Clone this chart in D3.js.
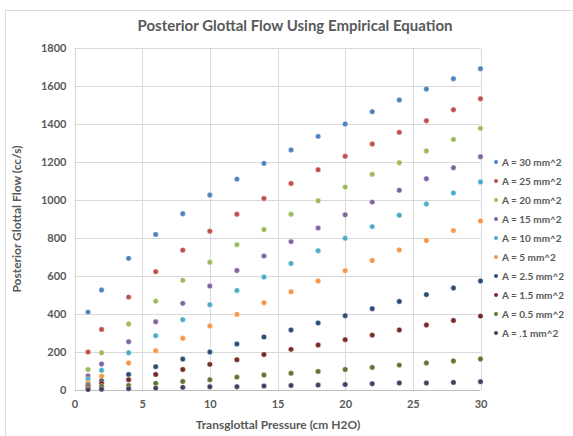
<!DOCTYPE html>
<html lang="en">
<head>
    <meta charset="UTF-8">
    <title>Posterior Glottal Flow</title>
    <script src="https://d3js.org/d3.v7.min.js"></script>
    <style>
        body { margin: 0; background: #fff; }
        text { font-family: Lato, "Open Sans", sans-serif; fill: #595959; }
        .tick text { font-size: 11px; font-weight: bold; }
        .title { font-size: 15px; font-weight: bold; }
        .axis-title { font-size: 12px; font-weight: bold; }
        .legend text { font-size: 10px; font-weight: bold; }
    </style>
</head>
<body>
    <svg width="573" height="436"></svg>
    <script>
        // transglottal pressure (cm H2O)
        var pressure = [1, 2, 4, 6, 8, 10, 12, 14, 16, 18, 20, 22, 24, 26, 28, 30];

        var seriesNames = ["A = 30 mm^2", "A = 25 mm^2", "A = 20 mm^2", "A = 15 mm^2", "A = 10 mm^2",
                           "A = 5 mm^2", "A = 2.5 mm^2", "A = 1.5 mm^2", "A = 0.5 mm^2", "A = .1 mm^2"];

        var a30  = [410, 526, 693, 819, 928, 1026, 1110, 1193, 1263, 1335, 1400, 1465, 1526, 1584, 1638, 1691];
        var a25  = [200, 319, 489, 623, 736, 836, 925, 1008, 1087, 1159, 1230, 1295, 1356, 1417, 1475, 1533];
        var a20  = [108, 196, 347, 468, 577, 672, 765, 845, 925, 996, 1068, 1135, 1196, 1258, 1319, 1377];
        var a15  = [74, 137, 254, 359, 456, 547, 629, 705, 781, 853, 922, 989, 1051, 1112, 1170, 1228];
        var a10  = [56, 104, 196, 286, 370, 449, 524, 595, 666, 733, 799, 860, 920, 979, 1037, 1095];
        var a5   = [38, 72, 142, 207, 272, 337, 398, 459, 517, 574, 628, 682, 737, 787, 839, 890];
        var a2_5 = [25, 48, 82, 123, 163, 200, 242, 279, 316, 353, 391, 428, 466, 502, 537, 574];
        var a1_5 = [17, 35, 54, 82, 108, 135, 159, 187, 214, 237, 265, 289, 316, 342, 366, 389];
        var a0_5 = [8, 20, 24, 35, 45, 54, 68, 79, 88, 98, 108, 119, 131, 142, 153, 163];
        var a0_1 = [2, 4, 7, 10, 14, 17, 17, 21, 24, 26, 29, 33, 37, 37, 40, 44];

        var xTicks = [0, 5, 10, 15, 20, 25, 30];
        var yTicks = [0, 200, 400, 600, 800, 1000, 1200, 1400, 1600, 1800];

        var seriesValues = [a30, a25, a20, a15, a10, a5, a2_5, a1_5, a0_5, a0_1];
        var colors = ["#4f81bd", "#c0504d", "#9bbb59", "#8064a2", "#4bacc6",
                      "#f79646", "#2c4d75", "#772c2a", "#5f7530", "#4d3b62"];

        var svg = d3.select("svg");

        // chart frame
        svg.append("rect")
            .attr("x", 5.5).attr("y", 10.5)
            .attr("width", 600).attr("height", 500)
            .attr("fill", "none").attr("stroke", "#d9d9d9");

        var x = d3.scaleLinear().domain([0, 30]).range([74.5, 480.5]);
        var y = d3.scaleLinear().domain([0, 1800]).range([390, 48]);

        // gridlines
        svg.append("g").selectAll("line").data(yTicks).enter().append("line")
            .attr("x1", x(0)).attr("x2", x(30))
            .attr("y1", function(d) { return Math.round(y(d)) + 0.5; })
            .attr("y2", function(d) { return Math.round(y(d)) + 0.5; })
            .attr("stroke", function(d) { return d === 0 ? "#bfbfbf" : "#d9d9d9"; });

        svg.append("g").selectAll("line").data(xTicks).enter().append("line")
            .attr("y1", y(0)).attr("y2", y(1800))
            .attr("x1", function(d) { return Math.round(x(d)) + 0.5; })
            .attr("x2", function(d) { return Math.round(x(d)) + 0.5; })
            .attr("stroke", "#d9d9d9");

        // axes (labels only)
        var xAxis = svg.append("g")
            .attr("transform", "translate(0," + y(0) + ")")
            .call(d3.axisBottom(x).tickValues(xTicks).tickSize(0).tickPadding(10));
        var yAxis = svg.append("g")
            .attr("transform", "translate(" + x(0) + ",0)")
            .call(d3.axisLeft(y).tickValues(yTicks).tickFormat(d3.format("d")).tickSize(0).tickPadding(8));
        xAxis.select(".domain").remove();
        yAxis.select(".domain").remove();

        // points
        seriesValues.forEach(function(vals, i) {
            svg.append("g").selectAll("circle").data(vals).enter().append("circle")
                .attr("cx", function(d, j) { return x(pressure[j]); })
                .attr("cy", function(d) { return y(d); })
                .attr("r", 2.7)
                .attr("fill", colors[i])
                .attr("stroke", "#fff")
                .attr("stroke-width", 0.4);
        });

        // legend
        var legend = svg.append("g").attr("class", "legend")
            .selectAll("g").data(seriesNames).enter().append("g")
            .attr("transform", function(d, i) { return "translate(496," + (162 + i * 19) + ")"; });
        legend.append("circle").attr("r", 2).attr("fill", function(d, i) { return colors[i]; });
        legend.append("text").attr("x", 6).attr("dy", "0.35em").text(function(d) { return d; });

        // titles
        svg.append("text").attr("class", "title")
            .attr("x", 295).attr("y", 31).attr("text-anchor", "middle")
            .text("Posterior Glottal Flow Using Empirical Equation");

        svg.append("text").attr("class", "axis-title")
            .attr("x", 278).attr("y", 429).attr("text-anchor", "middle")
            .text("Transglottal  Pressure  (cm H2O)");

        svg.append("text").attr("class", "axis-title")
            .attr("transform", "translate(21,219) rotate(-90)")
            .attr("text-anchor", "middle")
            .text("Posterior  Glottal  Flow  (cc/s)");
    </script>
</body>
</html>
